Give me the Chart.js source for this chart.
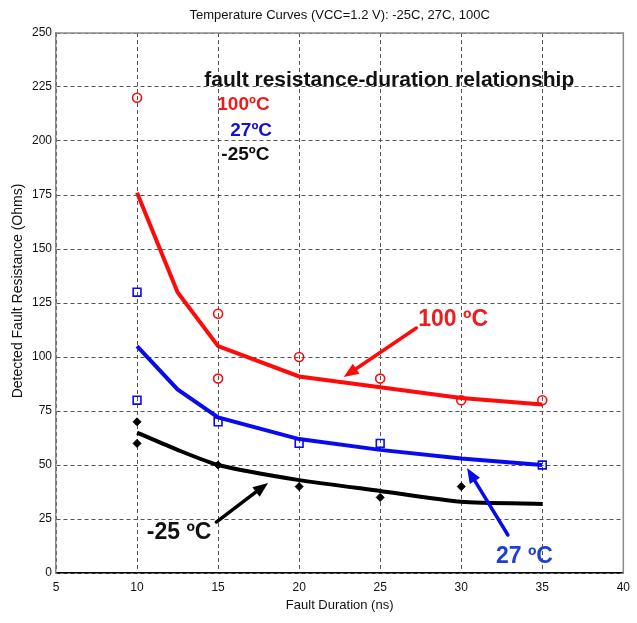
<!DOCTYPE html>
<html>
<head>
<meta charset="utf-8">
<script src="https://cdn.jsdelivr.net/npm/chart.js@4"></script>
<style>
  html, body { margin: 0; padding: 0; background: #fff; }
  #wrap { width: 637px; height: 623px; }
</style>
</head>
<body>
<div id="wrap"><canvas id="c" width="637" height="623"></canvas></div>
<script>
// ---- data ----
const chartTitle = 'Temperature Curves (VCC=1.2 V): -25C, 27C, 100C';
const xAxisTitle = 'Fault Duration (ns)';
const yAxisTitle = 'Detected Fault Resistance (Ohms)';

const fitDuration = [10, 12.5, 15, 20, 25, 30, 35];
const fit100 = [176, 130, 105, 91, 86, 81, 78];
const fit27  = [105, 85, 72, 62, 57, 53, 50];
const fitM25 = [65, 57, 50, 43, 38, 33, 32];

const meas100X = [10, 15, 15, 20, 25, 30, 35];
const meas100Y = [220, 120, 90, 100, 90, 80, 80];
const meas27X  = [10, 10, 15, 20, 25, 35];
const meas27Y  = [130, 80, 70, 60, 60, 50];
const measM25X = [10, 10, 15, 20, 25, 30];
const measM25Y = [70, 60, 50, 40, 35, 40];

// annotation texts (data coordinates: x, baseline y)
const noteTexts = ['fault resistance-duration relationship', '100ºC', '27ºC', '-25ºC', '100 ºC', '27 ºC', '-25 ºC'];
const noteX = [14.15, 14.95, 15.75, 15.2, 27.35, 32.14, 10.6];
const noteY = [225.5, 214.4, 202.5, 191.2, 114.4, 4.6, 15.7];
// arrows (data coordinates): tail -> head
const arrowTailX = [27.23, 32.88, 14.89];
const arrowTailY = [113.4, 17.6, 23.6];
const arrowHeadX = [22.75, 30.36, 18.08];
const arrowHeadY = [90.7, 48.6, 41.7];

// ---- styles ----
const RED = '#ff0a0a', BLUE = '#0a0af0', BLACK = '#000000';
const FAM = '"Liberation Sans", Arial, sans-serif';
const noteColors = ['#111', '#f01a1a', '#1010d8', '#111', '#ee1c1c', '#1f3fd0', '#111'];
const noteFonts = ['bold 21px ' + FAM, 'bold 19px ' + FAM, 'bold 19px ' + FAM, 'bold 19px ' + FAM,
  'bold 23px ' + FAM, 'bold 23px ' + FAM, 'bold 23px ' + FAM];
const arrowColors = [RED, BLUE, BLACK];

const zip = (xs, ys) => xs.map((x, i) => ({x: x, y: ys[i]}));

const annotPlugin = {
  id: 'annot',
  beforeDatasetsDraw(chart) {
    const {ctx, chartArea: a} = chart;
    ctx.save();
    ctx.strokeStyle = '#8a8a8a';
    ctx.lineWidth = 1.5;
    ctx.beginPath();
    ctx.moveTo(a.left, a.top); ctx.lineTo(a.right, a.top); ctx.lineTo(a.right, a.bottom);
    ctx.stroke();
    ctx.restore();
  },
  afterDraw(chart) {
    const {ctx, chartArea: a, scales} = chart;
    const xs = scales.x, ys = scales.y;
    ctx.save();
    // chart title
    ctx.font = '13px ' + FAM;
    ctx.fillStyle = '#111';
    ctx.textBaseline = 'middle';
    ctx.textAlign = 'center';
    ctx.fillText(chartTitle, (a.left + a.right) / 2, 15);
    // y axis title
    ctx.save();
    ctx.translate(18, 291);
    ctx.rotate(-Math.PI / 2);
    ctx.font = '14px ' + FAM;
    ctx.fillText(yAxisTitle, 0, 0);
    ctx.restore();
    // notes
    ctx.textAlign = 'left';
    ctx.textBaseline = 'alphabetic';
    noteTexts.forEach((t, i) => {
      ctx.font = noteFonts[i];
      ctx.fillStyle = noteColors[i];
      ctx.fillText(t, xs.getPixelForValue(noteX[i]), ys.getPixelForValue(noteY[i]));
    });
    // arrows
    arrowTailX.forEach((tx, i) => {
      const x0 = xs.getPixelForValue(tx), y0 = ys.getPixelForValue(arrowTailY[i]);
      const x1 = xs.getPixelForValue(arrowHeadX[i]), y1 = ys.getPixelForValue(arrowHeadY[i]);
      const ang = Math.atan2(y1 - y0, x1 - x0);
      const hl = 15, hw = 6;
      const bx = x1 - hl * Math.cos(ang), by = y1 - hl * Math.sin(ang);
      ctx.strokeStyle = arrowColors[i];
      ctx.fillStyle = arrowColors[i];
      ctx.lineWidth = 3.5;
      ctx.lineCap = 'round';
      ctx.beginPath(); ctx.moveTo(x0, y0); ctx.lineTo(bx, by); ctx.stroke();
      ctx.beginPath();
      ctx.moveTo(x1, y1);
      ctx.lineTo(bx + hw * Math.sin(ang), by - hw * Math.cos(ang));
      ctx.lineTo(bx - hw * Math.sin(ang), by + hw * Math.cos(ang));
      ctx.closePath(); ctx.fill();
    });
    ctx.restore();
  }
};

const tickFont = {family: FAM, size: 12};

new Chart(document.getElementById('c'), {
  type: 'scatter',
  data: {
    datasets: [
      {label: 'meas 100C', data: zip(meas100X, meas100Y), showLine: false, pointStyle: 'circle', pointRadius: 4.5,
       borderColor: RED, backgroundColor: 'rgba(0,0,0,0)', borderWidth: 1.6},
      {label: 'meas 27C', data: zip(meas27X, meas27Y), showLine: false, pointStyle: 'rect', pointRadius: 5.5,
       borderColor: BLUE, backgroundColor: 'rgba(0,0,0,0)', borderWidth: 1.6},
      {label: 'meas -25C', data: zip(measM25X, measM25Y), showLine: false, pointStyle: 'rectRot', pointRadius: 4,
       borderColor: BLACK, backgroundColor: BLACK, borderWidth: 1},
      {label: 'fit 100C', data: zip(fitDuration, fit100), showLine: true, pointRadius: 0, borderColor: RED, borderWidth: 4, tension: 0},
      {label: 'fit 27C', data: zip(fitDuration, fit27), showLine: true, pointRadius: 0, borderColor: BLUE, borderWidth: 4, tension: 0},
      {label: 'fit -25C', data: zip(fitDuration, fitM25), showLine: true, pointRadius: 0, borderColor: BLACK, borderWidth: 4, tension: 0.2}
    ]
  },
  options: {
    responsive: false,
    animation: false,
    devicePixelRatio: 1,
    layout: {padding: {top: 33, right: 11, left: 0, bottom: 0}},
    plugins: {legend: {display: false}, tooltip: {enabled: false}, title: {display: false}},
    scales: {
      x: {
        type: 'linear', min: 5, max: 40,
        ticks: {stepSize: 5, color: '#111', font: tickFont, padding: 7, maxRotation: 0},
        grid: {color: '#555', lineWidth: 1, drawTicks: false},
        border: {color: '#000', width: 1.5, dash: [4, 3]},
        title: {display: true, text: xAxisTitle, color: '#111', font: {family: FAM, size: 13}, padding: {top: 0, bottom: 10}},
        afterFit(s) { s.height = 50; }
      },
      y: {
        type: 'linear', min: 0, max: 250,
        ticks: {stepSize: 25, color: '#111', font: tickFont, padding: 4},
        grid: {color: '#555', lineWidth: 1, drawTicks: false},
        border: {color: '#888', width: 1.5, dash: [4, 3]},
        title: {display: false, text: yAxisTitle},
        afterFit(s) { s.width = 56; }
      }
    }
  },
  plugins: [annotPlugin]
});
</script>
</body>
</html>
